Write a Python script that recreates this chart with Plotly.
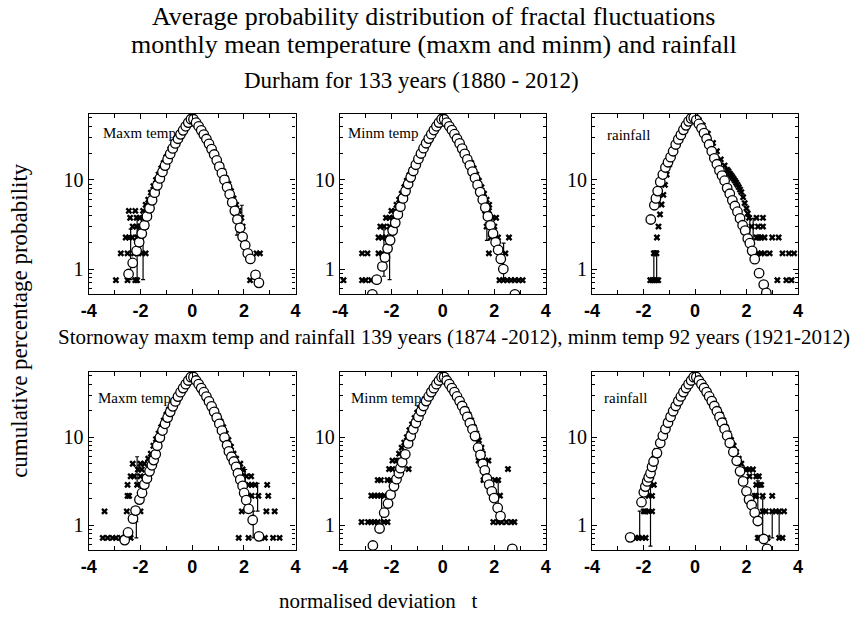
import plotly.graph_objects as go

W, H = 865, 618

# ---------------- Durham maxm temp ----------------
dm_circ_t = [-2.46,-2.3,-2.15,-2.05,-1.95,-1.85,-1.75,-1.65,-1.55,-1.45,-1.35,-1.25,-1.15,-1.05,-0.95,-0.85,-0.75,-0.65,-0.55,-0.45,-0.35,-0.25,-0.15,-0.05,
             0.05,0.15,0.25,0.35,0.45,0.55,0.65,0.75,0.85,0.95,1.05,1.15,1.25,1.35,1.45,1.55,1.65,1.75,1.85,1.95,2.05,2.15,2.25,2.45,2.58]
dm_circ_p = [0.88,1.17,1.6,2.0,2.5,3.1,3.9,4.8,5.9,7.2,8.7,10.4,12.3,14.5,17.0,19.6,22.6,25.7,29.0,32.5,36.0,40.0,44.0,48.0,
             48.0,44.0,40.0,36.0,32.3,28.8,25.4,22.2,19.3,16.6,14.1,11.9,10.0,8.3,6.9,5.6,4.5,3.6,2.9,2.3,1.85,1.5,1.3,0.86,0.70]
dm_x_t = [-0.03,-0.1,-0.3,-0.5,-0.7,-0.85,-1.0,-1.1,-1.2,-1.3,-1.4,-1.5,-1.6,-1.7,-1.8,
          -2.45,-2.2,-1.9, -2.4,-2.15,-2.03,-1.9, -2.3,-2.15,-2.03,-1.9,-1.8, -2.57,-2.44,-2.32,-2.13,-2.0,
          -2.76,-2.5,-2.25,-2.13,-1.94,-1.8, -2.95,-2.5,-2.2,-2.13,
          0.03,0.1,0.3,0.5,0.7,0.9,1.0,1.1,1.2,1.3,1.4,1.5,1.6,1.7,1.8,1.9,
          1.95,1.98,2.49,2.62,2.24]
dm_x_p = [51,48,40,33,26.5,22,18,15.5,13.5,11.5,10,8.5,7.2,6.0,5.26,
          4.5,4.5,4.5, 3.76,3.76,3.76,3.76, 3.0,3.0,3.0,3.0,3.0, 2.26,2.26,2.26,2.26,2.26,
          1.5,1.5,1.5,1.5,1.5,1.5, 0.75,0.75,0.75,0.75,
          51,48,40,32,25,19,16.5,14.5,12.5,10.5,9,7.5,6.2,5.26,4.5,3.76,
          3.0,2.26,1.5,1.5,0.75]
dm_bar_t = [-2.38,-2.13,-1.9,1.73,1.92]
dm_bar_lo = [0.76,0.76,0.76,2.4,2.4]
dm_bar_hi = [2.8,3.9,2.3,3.8,5.2]

# ---------------- Durham minm temp ----------------
dn_circ_t = [-2.74,-2.57,-2.35,-2.25,-2.15,-2.05,-1.95,-1.85,-1.75,-1.65,-1.55,-1.45,-1.35,-1.25,-1.15,-1.05,-0.95,-0.85,-0.75,-0.65,-0.55,-0.45,-0.35,-0.25,-0.15,-0.05,
             0.05,0.15,0.25,0.35,0.45,0.55,0.65,0.75,0.85,0.95,1.05,1.15,1.25,1.35,1.45,1.55,1.65,1.75,1.85,1.95,2.05,2.15,2.25,2.35,2.8]
dn_circ_p = [0.52,0.76,1.07,1.35,1.7,2.1,2.7,3.3,4.1,5.0,6.2,7.5,9.0,10.7,12.6,14.8,17.2,19.8,22.7,25.8,29.1,32.6,36.3,40,44,48,
             48,44,40,36.3,32.6,29,25.7,22.5,19.6,17,14.6,12.4,10.5,8.8,7.3,6.0,4.9,3.9,3.1,2.5,2.0,1.64,1.3,1.0,0.52]
dn_x_t = [-0.03,-0.1,-0.3,-0.5,-0.7,-0.9,-1.1,-1.2,-1.3,-1.4,-1.5,-1.6,-1.7,-1.8,
          -2.0,-1.86, -2.21,-2.07,-1.93, -2.43,-2.29,-2.07, -2.5,-2.36,-2.21,-2.07, -3.14,-2.93,-2.5,-2.36, -3.86,-3.14,-3.0,-2.79,
          0.03,0.1,0.3,0.5,0.7,0.9,1.1,1.2,1.3,1.4,1.5,1.6,1.7,1.8,
          1.64,1.79, 1.93,2.07, 1.7,1.86,2.0, 1.86,2.0,2.14,2.57, 1.79,2.43, 2.2,2.35,2.5,2.65,2.8,2.95,3.1]
dn_x_p = [51,48,39,31.5,25,19.5,15,13,11.3,9.8,8.3,7,6,5.26,
          4.5,4.5, 3.76,3.76,3.76, 3.0,3.0,3.0, 2.26,2.26,2.26,2.26, 1.5,1.5,1.5,1.5, 0.75,0.75,0.75,0.75,
          51,48,39,31.5,25,20,15.5,13.5,11.5,9.8,8.3,7,6,5.26,
          4.5,4.5, 3.76,3.76, 3.0,3.0,3.0, 2.26,2.26,2.26,2.26, 1.5,1.5, 0.75,0.75,0.75,0.75,0.75,0.75,0.75]
dn_bar_t = [-2.29,-2.07,1.71,2.36]
dn_bar_lo = [0.83,0.76,2.1,0.76]
dn_bar_hi = [2.76,1.95,3.3,1.95]

# ---------------- Durham rainfall ----------------
dr_circ_t = [-1.72,-1.58,-1.52,-1.45,-1.35,-1.25,-1.15,-1.05,-0.95,-0.85,-0.75,-0.65,-0.55,-0.45,-0.35,-0.25,-0.15,-0.05,
             0.05,0.15,0.25,0.35,0.45,0.55,0.65,0.75,0.85,0.95,1.05,1.15,1.25,1.35,1.45,1.55,1.65,1.75,1.85,1.95,2.05,2.13,2.22,2.32,2.49,2.67,2.77]
dr_circ_p = [3.6,5.2,6.2,7.5,9.5,11.5,13.8,15.8,18,21,25,28.5,32,36.5,41,45.5,49,50,
             47,42.5,38,33.5,29,25,21,17.5,15,12.8,11.2,9.8,8.1,7.0,5.9,5.1,4.4,3.7,3.1,2.7,2.2,1.95,1.6,1.29,0.9,0.67,0.54]
dr_x_t = [-0.08,-0.15,-0.3,-0.5,-0.7,-0.85,-1.0,-1.1,-1.17,-1.23,-1.3,-1.36,-1.42,-1.48,-1.6,-1.5,
          -1.74,-1.66,-1.58,-1.5,-1.43,
          0.05,0.15,0.3,0.5,0.7,0.85,1.0,1.15,1.25,1.3,1.35,1.4,1.45,1.5,1.55,1.6,1.65,1.7,1.75,1.8,1.87,1.93,2.0,2.05,2.1,
          2.39,2.64, 2.2,2.45,2.64, 2.39,2.48,2.57,2.7,3.0,3.25, 2.45,2.57,2.7,2.9,3.4,3.65,3.85, 3.2,3.55,3.75]
dr_x_p = [51,49,43,34,26,20,15,11.5,8.8,6.8,5.3,4.1,3.0,2.26,1.5,1.5,
          0.75,0.75,0.75,0.75,0.75,
          50,47,41,33,26,21,17,14.5,13,12.5,11.8,11.3,10.8,10.3,9.8,9.3,8.8,8.3,7.8,7.3,6.4,5.5,4.8,4.2,3.76,
          3.76,3.76, 3.0,3.0,3.0, 2.26,2.26,2.26,2.26,2.26,2.26, 1.5,1.5,1.5,1.5,1.5,1.5,1.5, 0.75,0.75,0.75]
dr_bar_t = [-1.6,-1.49,2.13,2.26]
dr_bar_lo = [0.73,0.73,2.2,1.9]
dr_bar_hi = [1.6,1.6,3.9,3.7]

# ---------------- Stornoway maxm temp ----------------
sm_circ_t = [-2.61,-2.48,-2.29,-2.19,-2.04,-1.94,-1.85,-1.75,-1.65,-1.56,-1.49,-1.41,-1.35,-1.25,-1.15,-1.05,-0.95,-0.85,-0.75,-0.65,-0.55,-0.45,-0.35,-0.25,-0.15,-0.05,
             0.05,0.15,0.25,0.35,0.45,0.55,0.65,0.75,0.85,0.95,1.05,1.15,1.25,1.35,1.42,1.52,1.61,1.7,1.77,1.86,1.95,2.01,2.09,2.18,2.34,2.58]
sm_circ_p = [0.68,0.83,1.19,1.47,1.96,2.33,2.9,3.4,4.1,4.8,5.5,6.4,8.0,9.9,11.9,14.2,16.7,19.4,22.4,25.5,28.9,32.4,36.1,40,44,48,
             48,44,40,36.1,32.4,28.9,25.5,22.4,19.4,16.7,14.2,11.9,9.9,8.1,6.9,6.0,5.3,4.6,3.9,3.3,2.8,2.33,1.93,1.54,1.15,0.75]
sm_x_t = [-0.03,-0.1,-0.3,-0.5,-0.7,-0.9,-1.0,-1.1,-1.2,-1.3,-1.4,-1.5,-1.6,-1.7,
          -2.3,-2.0,-1.85, -1.95,-2.1, -2.38,-2.25,-2.0, -2.5,-2.13,-1.94, -2.5,-2.44,-2.0, -3.39,-2.53,-2.0,
          -3.46,-3.27,-3.08,-2.95,-2.76,-2.63,-2.51,-2.38,
          0.03,0.1,0.3,0.5,0.7,0.9,1.0,1.1,1.2,1.3,1.4,1.5,1.6,1.7,
          1.66,1.86, 1.8,1.95, 1.92,2.1,2.28, 2.05,2.18,2.3,2.43,2.9, 2.18,2.3,2.56,2.94, 1.92,2.87,3.19,
          1.8,2.18,2.62,2.81,3.13,3.38]
sm_x_p = [51,48,40,32.5,26,20.5,18,15.5,13,11,9.5,8,6.5,5.7,
          5.0,5.0,5.0, 4.3,4.3, 3.6,3.6,3.6, 2.88,2.88,2.88, 2.16,2.16,2.16, 1.44,1.44,1.44,
          0.72,0.72,0.72,0.72,0.72,0.72,0.72,0.72,
          51,48,40,32.5,25.5,20,17.5,15,13,11,9.3,7.8,6.5,5.7,
          5.0,5.0, 4.3,4.3, 3.6,3.6,3.6, 2.88,2.88,2.88,2.88,2.88, 2.16,2.16,2.16,2.16, 1.44,1.44,1.44,
          0.72,0.72,0.72,0.72,0.72,0.72]
sm_bar_t = [-2.13,-2.16,2.05,2.36,2.53]
sm_bar_lo = [3.0,0.72,2.2,0.72,1.45]
sm_bar_hi = [6.0,1.1,4.3,1.45,3.0]

# ---------------- Stornoway minm temp ----------------
sn_circ_t = [-2.72,-2.46,-2.28,-2.13,-2.03,-1.9,-1.8,-1.71,-1.65,-1.58,-1.46,-1.35,-1.25,-1.15,-1.05,-0.95,-0.85,-0.75,-0.65,-0.55,-0.45,-0.35,-0.25,-0.15,-0.05,
             0.05,0.15,0.25,0.35,0.45,0.55,0.65,0.75,0.85,0.95,1.05,1.15,1.25,1.37,1.46,1.55,1.63,1.71,1.8,1.9,1.99,2.13,2.24,2.7]
sn_circ_p = [0.59,0.92,1.39,1.77,2.23,2.77,3.34,3.9,4.45,5.2,6.4,8.5,10.3,12.3,14.5,17,19.7,22.6,25.7,29,32.5,36,40,44,48,
             48,44,40,36,32.5,29,25.7,22.6,19.7,17,14.5,12.3,10.3,7.6,6.3,5.0,4.2,3.4,2.9,2.43,2.04,1.58,1.27,0.54]
sn_x_t = [-0.03,-0.1,-0.3,-0.5,-0.7,-0.9,-1.0,-1.1,-1.2,-1.3,-1.4,-1.5,-1.6,-1.7,-1.8,
          -1.96,-1.72, -2.09,-1.96,-1.33, -2.53,-2.41,-2.15,-2.03, -2.78,-2.66,-2.53,-2.41,-2.28,
          -3.16,-2.91,-2.78,-2.66,-2.53,-2.28,-2.15,
          0.03,0.1,0.3,0.5,0.7,0.9,1.0,1.1,1.2,1.3,1.4,1.5,1.55,
          1.39,1.52,1.65,1.77, 1.58,1.65,2.53, 1.58,1.71,1.84,2.03,2.15, 1.96,2.09,2.22,
          1.96,2.15,2.28,2.47,2.66,2.78]
sn_x_p = [51,48,40,33,27,21.5,19,16.5,14,12,10,8.7,7.6,6.5,5.43,
          5.43,5.43, 4.35,4.35,4.35, 3.26,3.26,3.26,3.26, 2.17,2.17,2.17,2.17,2.17,
          1.09,1.09,1.09,1.09,1.09,1.09,1.09,
          51,48,40,32.5,26,20.5,18,15.5,13,11,9.2,7.6,6.5,
          5.43,5.43,5.43,5.43, 4.35,4.35,4.35, 3.26,3.26,3.26,3.26,3.26, 2.17,2.17,2.17,
          1.09,1.09,1.09,1.09,1.09,1.09]
sn_bar_t = [-2.38,2.15,1.55]
sn_bar_lo = [1.09,1.09,3.26]
sn_bar_hi = [2.17,3.26,5.43]

# ---------------- Stornoway rainfall ----------------
sr_circ_t = [-2.52,-2.08,-1.99,-1.93,-1.86,-1.8,-1.73,-1.67,-1.61,-1.48,-1.35,-1.25,-1.15,-1.05,-0.95,-0.85,-0.75,-0.65,-0.55,-0.45,-0.35,-0.25,-0.15,-0.05,
             0.05,0.15,0.25,0.35,0.45,0.55,0.65,0.75,0.85,0.95,1.05,1.15,1.25,1.35,1.49,1.62,1.75,1.87,2.0,2.1,2.2,2.32,2.44,2.67,2.8]
sr_circ_p = [0.73,1.83,2.37,2.75,3.15,3.5,3.9,4.6,5.3,6.6,8.6,10.4,12.4,14.6,17,19.7,22.6,25.7,29,32.5,36.2,40,44,48,
             48,44,40,36.2,32.5,29,25.7,22.6,19.7,17,14.6,12.4,10.4,8.6,6.8,5.4,4.1,3.15,2.43,1.96,1.7,1.39,1.12,0.7,0.54]
sr_x_t = [-0.03,-0.1,-0.3,-0.5,-0.7,-0.9,-1.0,-1.1,-1.2,-1.3,-1.4,-1.5,-1.6,-1.67,
          -1.7, -1.73,-1.6, -1.8,-1.67, -1.99,-1.92,-1.8,-1.67, -2.3,-2.2,-2.05,-1.92,
          0.03,0.1,0.3,0.5,0.7,0.9,1.0,1.1,1.2,1.3,1.4,1.5,1.6,1.7,1.8,
          1.99,2.1,2.25, 2.12,2.38,2.48, 2.38,2.5,2.57, 2.32,2.38,2.63,3.0, 2.63,2.75,3.0,3.15,3.27,3.46,
          2.44,2.5,2.63,2.82,3.27,3.4]
sr_x_p = [51,48,40,32.5,26,20,17.5,15,12.5,10.5,8.6,7,5.7,4.3,
          3.6, 2.88,2.88, 2.16,2.16, 1.44,1.44,1.44,1.44, 0.72,0.72,0.72,0.72,
          51,48,40,33,26,20.5,18,15.5,13,11,9.3,8,6.8,5.7,5.0,
          4.3,4.3,4.3, 3.6,3.6,3.6, 2.88,2.88,2.88, 2.16,2.16,2.16,2.16, 1.44,1.44,1.44,1.44,1.44,1.44,
          0.72,0.72,0.72,0.72,0.72,0.72]
sr_bar_t = [-2.15,-1.73,2.63,3.0,3.27,2.44]
sr_bar_lo = [0.72,0.58,0.72,0.72,0.72,1.25]
sr_bar_hi = [1.45,3.0,2.0,1.44,1.46,3.2]

# ---------------- labels ----------------
panel_names = ["Maxm temp", "Minm temp", "rainfall", "Maxm temp", "Minm temp", "rainfall"]
x_tickvals = [-4, -2, 0, 2, 4]
x_ticktext = ["-4", "-2", "0", "2", "4"]
y_tickvals = [1, 10]
y_ticktext = ["1", "10"]
y_minor = [0.6, 0.7, 0.8, 0.9, 2, 3, 4, 5, 6, 7, 8, 9, 20, 30, 40, 50]

panels = [
    (dm_circ_t, dm_circ_p, dm_x_t, dm_x_p, dm_bar_t, dm_bar_lo, dm_bar_hi),
    (dn_circ_t, dn_circ_p, dn_x_t, dn_x_p, dn_bar_t, dn_bar_lo, dn_bar_hi),
    (dr_circ_t, dr_circ_p, dr_x_t, dr_x_p, dr_bar_t, dr_bar_lo, dr_bar_hi),
    (sm_circ_t, sm_circ_p, sm_x_t, sm_x_p, sm_bar_t, sm_bar_lo, sm_bar_hi),
    (sn_circ_t, sn_circ_p, sn_x_t, sn_x_p, sn_bar_t, sn_bar_lo, sn_bar_hi),
    (sr_circ_t, sr_circ_p, sr_x_t, sr_x_p, sr_bar_t, sr_bar_lo, sr_bar_hi),
]

# layout geometry (pixels)
col_px = [(82, 292), (337, 546), (593, 802)]
row_px = [(114, 294), (372, 550)]
label_px = [(94, 133), (343, 133), (606, 135), (89, 398), (346, 398), (603, 398)]

fig = go.Figure()
SERIF = "Liberation Serif"

for i, (ct, cp, xt, xp, bt, blo, bhi) in enumerate(panels):
    n = "" if i == 0 else str(i + 1)
    xa, ya = "x" + n, "y" + n
    # crosses
    fig.add_trace(go.Scatter(x=xt, y=xp, mode="markers", xaxis=xa, yaxis=ya,
                             marker=dict(symbol="x", size=6, color="black", line=dict(width=0)),
                             showlegend=False, hoverinfo="skip"))
    # error bars
    fig.add_trace(go.Scatter(x=bt, y=bhi, mode="markers", xaxis=xa, yaxis=ya,
                             marker=dict(size=1, color="rgba(0,0,0,0)"),
                             error_y=dict(type="data", symmetric=False,
                                          array=[0] * len(bt),
                                          arrayminus=[h - l for h, l in zip(bhi, blo)],
                                          color="black", thickness=1.2, width=2),
                             showlegend=False, hoverinfo="skip"))
    # circles
    fig.add_trace(go.Scatter(x=ct, y=cp, mode="markers", xaxis=xa, yaxis=ya,
                             marker=dict(symbol="circle", size=9.5, color="white",
                                         line=dict(color="black", width=1.3)),
                             showlegend=False, hoverinfo="skip"))

    r, c = divmod(i, 3)
    x0, x1 = col_px[c]
    y0, y1 = row_px[r]
    common = dict(showline=True, linecolor="black", linewidth=1.3, mirror="allticks",
                  ticks="inside", tickcolor="black", showgrid=False, zeroline=False)
    fig.layout["xaxis" + n] = dict(
        domain=[x0 / W, x1 / W], anchor=ya, range=[-4, 4],
        tickvals=x_tickvals, ticktext=x_ticktext, ticklen=5, tickwidth=1.2,
        tickfont=dict(family="Liberation Sans", size=18, color="black", weight="bold"),
        minor=dict(dtick=1, ticks="inside", ticklen=4, tickcolor="black", showgrid=False),
        **common)
    fig.layout["yaxis" + n] = dict(
        domain=[1 - y1 / H, 1 - y0 / H], anchor=xa, type="log", range=[-0.28, 1.74],
        tickvals=y_tickvals, ticktext=y_ticktext, ticklen=5, tickwidth=1.2,
        tickfont=dict(family=SERIF, size=20, color="black"),
        minor=dict(tickvals=y_minor, ticks="inside", ticklen=3, tickcolor="black", showgrid=False),
        **common)

annotations = []
def ann(text, px, py, size, **kw):
    d = dict(text=text, x=px / W, y=1 - py / H, xref="paper", yref="paper",
             showarrow=False, font=dict(family=SERIF, size=size, color="black"),
             xanchor="center", yanchor="middle")
    d.update(kw)
    annotations.append(d)

ann("Average probability distribution of fractal fluctuations", 432, 16, 26)
ann("monthly mean temperature (maxm and minm) and rainfall", 432, 44, 26)
ann("Durham for 133 years (1880 - 2012)", 410, 80, 23)
ann("Stornoway maxm temp and rainfall 139 years (1874 -2012), minm temp 92 years (1921-2012)", 453, 337, 21)
ann("cumulative percentage probability", 11, 320, 23, textangle=-90)
ann("normalised deviation\u00a0\u00a0\u00a0t", 376, 601, 21)
for name, (lx, ly) in zip(panel_names, label_px):
    ann(name, lx, ly, 15, xanchor="left")

fig.update_layout(width=W, height=H, margin=dict(l=0, r=0, t=0, b=0),
                  paper_bgcolor="white", plot_bgcolor="white",
                  annotations=annotations, showlegend=False)

fig.write_html("out.html", config={"displayModeBar": False},
               post_script="document.body.style.margin='0px';")
